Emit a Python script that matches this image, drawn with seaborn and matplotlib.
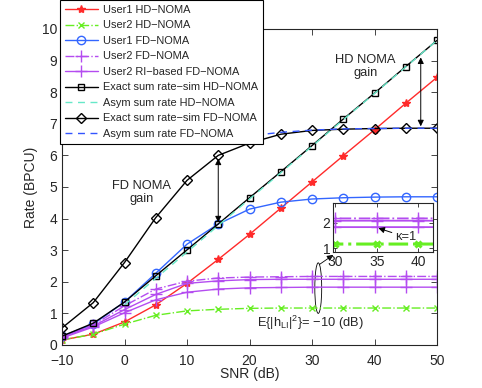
import numpy as np
import seaborn as sns
import matplotlib.pyplot as plt
from matplotlib.patches import Ellipse

snr = [-10, -5, 0, 5, 10, 15, 20, 25, 30, 35, 40, 45, 50]

user1_hd = [0.16, 0.34, 0.73, 1.27, 1.95, 2.71, 3.50, 4.33, 5.16, 5.99, 6.81, 7.65, 8.47]
user2_hd = [0.16, 0.34, 0.66, 0.94, 1.08, 1.13, 1.16, 1.17, 1.17, 1.17, 1.17, 1.17, 1.17]
user1_fd = [0.28, 0.66, 1.36, 2.27, 3.19, 3.83, 4.30, 4.52, 4.62, 4.66, 4.68, 4.69, 4.69]
user2_fd = [0.27, 0.63, 1.24, 1.77, 2.02, 2.12, 2.15, 2.16, 2.17, 2.17, 2.17, 2.17, 2.17]
user2_ri_a = [0.25, 0.60, 1.12, 1.60, 1.95, 2.03, 2.07, 2.08, 2.08, 2.08, 2.08, 2.08, 2.08]
user2_ri_b = [0.22, 0.57, 1.02, 1.43, 1.67, 1.77, 1.81, 1.82, 1.83, 1.83, 1.83, 1.83, 1.83]
sum_hd = [0.28, 0.69, 1.36, 2.19, 3.01, 3.83, 4.66, 5.48, 6.31, 7.15, 7.97, 8.81, 9.64]
sum_fd = [0.54, 1.34, 2.61, 4.03, 5.21, 6.00, 6.39, 6.67, 6.79, 6.83, 6.85, 6.86, 6.86]

snr_asym_hd = [0, 5, 10, 15, 20, 25, 30, 35, 40, 45, 50]
asym_hd = [1.27, 2.11, 2.94, 3.78, 4.62, 5.45, 6.29, 7.13, 7.96, 8.80, 9.64]
snr_asym_fd = [15, 20, 25, 30, 35, 40, 45, 50]
asym_fd = [6.45, 6.62, 6.73, 6.80, 6.84, 6.85, 6.86, 6.86]

RED = '#ff2a2a'
GREEN = '#66ee22'
BLUE = '#3366ff'
MAG = '#b44cf0'
CYAN = '#66e8c8'
BLUE2 = '#3355ff'

sns.set_style('ticks')
plt.rcParams['font.family'] = ['Liberation Sans', 'DejaVu Sans']
plt.rcParams['mathtext.fontset'] = 'custom'
plt.rcParams['mathtext.rm'] = 'Liberation Sans'
plt.rcParams['mathtext.it'] = 'Liberation Sans'

fig = plt.figure(figsize=(4.82, 3.88), dpi=100)
ax = fig.add_axes([62/482, 1-345/388, 375/482, 316/388])

def draw(a, x, y, color, marker, ls, ms=6, lw=1.0, mew=1.0, label=None, mfc='none'):
    sns.lineplot(x=x, y=y, ax=a, color=color, marker=marker, linestyle=ls,
                 markersize=ms, linewidth=lw, markeredgewidth=mew,
                 markerfacecolor=mfc, markeredgecolor=color, label=label,
                 legend=False)

draw(ax, snr, user1_hd, RED, '*', '-', ms=6, mfc=RED, label='User1 HD\u2212NOMA')
draw(ax, snr, user2_hd, GREEN, 'x', '-.', ms=5, label='User2 HD\u2212NOMA')
draw(ax, snr, user1_fd, BLUE, 'o', '-', ms=6, label='User1 FD\u2212NOMA')
draw(ax, snr, user2_fd, MAG, '+', '-.', ms=8, label='User2 FD\u2212NOMA')
draw(ax, snr, user2_ri_a, MAG, '+', '-', ms=8, label='User2 RI\u2212based FD\u2212NOMA')
draw(ax, snr, user2_ri_b, MAG, '+', '-', ms=8)
draw(ax, snr, sum_hd, 'black', 's', '-', ms=5, label='Exact sum rate\u2212sim HD\u2212NOMA')
draw(ax, snr_asym_hd, asym_hd, CYAN, None, (0, (5, 4)), label='Asym sum rate HD\u2212NOMA')
draw(ax, snr, sum_fd, 'black', 'D', '-', ms=5, label='Exact sum rate\u2212sim FD\u2212NOMA')
draw(ax, snr_asym_fd, asym_fd, BLUE2, None, (0, (5, 4)), label='Asym sum rate FD\u2212NOMA')

ax.set_xlim(-10, 50)
ax.set_ylim(0, 10)
ax.set_xticks([-10, 0, 10, 20, 30, 40, 50])
ax.set_yticks(range(0, 11))
ax.tick_params(direction='in', top=True, right=True, labelsize=10, length=4, width=0.6)
ax.tick_params(axis='x', pad=6.5)
for s in ax.spines.values():
    s.set_linewidth(0.8)
ax.set_xlabel('SNR (dB)', fontsize=10, labelpad=-1)
ax.set_ylabel('Rate (BPCU)', fontsize=10, labelpad=3)

# annotations
ax.text(38.5, 8.8, 'HD NOMA\ngain', ha='center', va='center', fontsize=9.3, linespacing=1.1)
ax.text(2.8, 4.84, 'FD NOMA\ngain', ha='center', va='center', fontsize=9.3, linespacing=1.1)
arrow = dict(arrowstyle='<|-|>', color='black', lw=0.7, mutation_scale=9, shrinkA=0, shrinkB=0)
ax.annotate('', xy=(47.4, 6.92), xytext=(47.4, 9.1), arrowprops=arrow)
ax.annotate('', xy=(15, 3.88), xytext=(15, 5.9), arrowprops=arrow)
ax.add_patch(Ellipse((31.0, 1.8), width=1.1, height=1.6, fill=False, lw=0.6, color='black'))
ax.annotate('', xy=(33.4, 2.85), xytext=(31.2, 2.55),
            arrowprops=dict(arrowstyle='-|>', color='black', lw=0.6, mutation_scale=9,
                            shrinkA=0, shrinkB=0))
ax.text(29.7, 0.69, 'E{|h$_{\\rm LI}$|$^{2}$}= \u221210 (dB)', ha='center', va='center',
        fontsize=9.3)

leg = ax.legend(loc='upper left', bbox_to_anchor=(60/482, 1.0), bbox_transform=fig.transFigure,
                fontsize=7.9, labelspacing=0.5, handlelength=3.0, handletextpad=0.43,
                borderpad=0.45, borderaxespad=0, fancybox=False, framealpha=1,
                edgecolor='black')
leg.get_frame().set_linewidth(0.8)

# inset
ins = fig.add_axes([333/482, 1-252/388, 100/482, 49/388])
draw(ins, snr, user2_fd, MAG, '+', '-.', ms=9, lw=1.3)
draw(ins, snr, user2_ri_a, MAG, '+', '-', ms=9, lw=1.3)
draw(ins, snr, user2_ri_b, MAG, '+', '-', ms=9, lw=1.3)
draw(ins, snr, user2_hd, GREEN, 'x', '-.', ms=5, lw=2.2, mew=2.2)
ins.set_xlim(29.75, 41.75)
ins.set_ylim(0.86, 2.77)
ins.set_xticks([30, 35, 40])
ins.set_yticks([1, 2])
ins.tick_params(direction='in', top=True, right=True, labelsize=10, length=3, width=0.6, pad=2)
for s in ins.spines.values():
    s.set_linewidth(0.8)
ins.annotate('\u03ba=1', xy=(35.2, 1.79), xytext=(37.2, 1.44), fontsize=9.3, va='center',
             arrowprops=dict(arrowstyle='-|>', color='black', lw=0.7, mutation_scale=9,
                             shrinkA=0, shrinkB=0))

fig.savefig('out.png', dpi=100)
